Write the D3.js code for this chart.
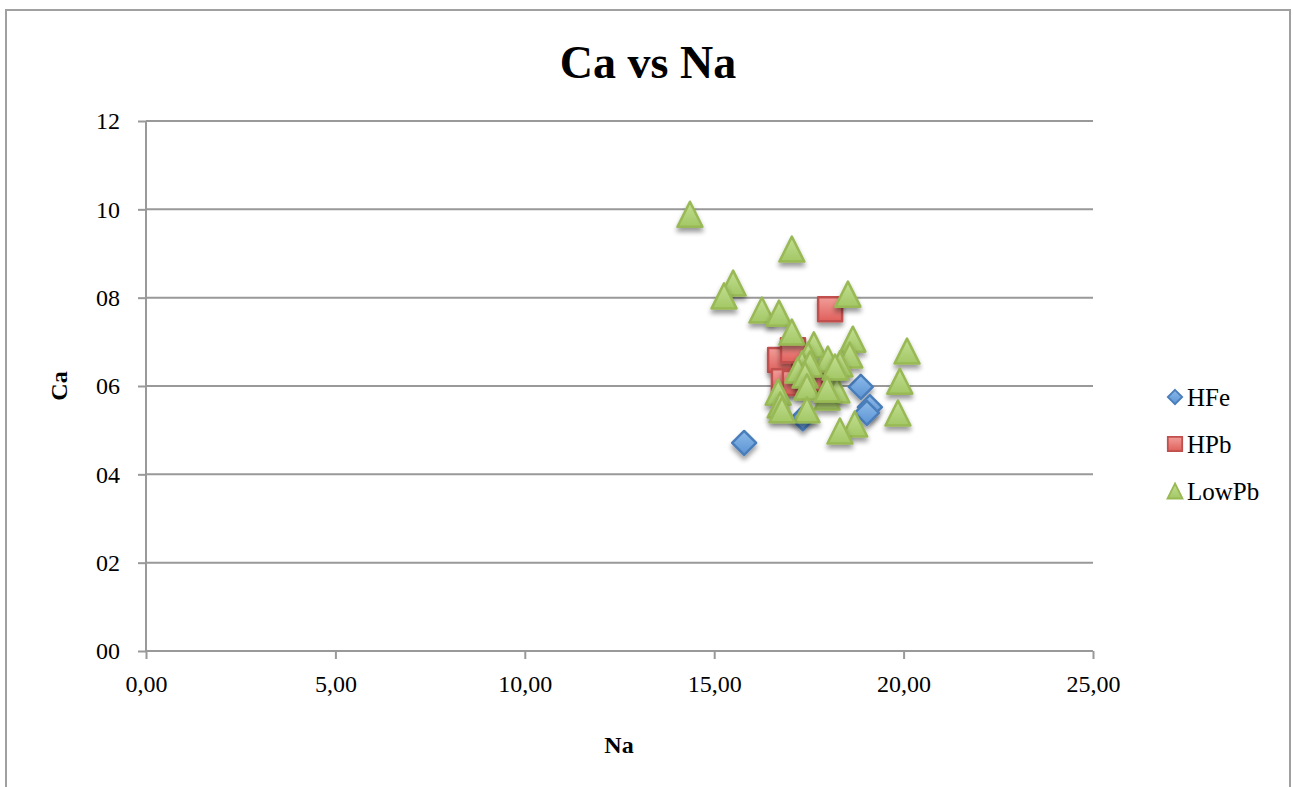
<!DOCTYPE html>
<html>
<head>
<meta charset="utf-8">
<script src="https://cdn.jsdelivr.net/npm/d3@7"></script>
<style>
  body { margin: 0; background: #fff; }
  text { font-family: "Liberation Serif", "DejaVu Serif", serif; fill: #000; }
</style>
</head>
<body>
<svg id="chart" width="1293" height="787"></svg>
<script>

// Na / Ca values
let hfeNa = [15.79, 17.34, 18.87, 19.11, 19.03]
let hfeCa = [4.71, 5.27, 5.98, 5.52, 5.39]

let hpbNa = [18.06, 16.74, 17.08, 16.84, 17.13, 17.53]
let hpbCa = [7.74, 6.59, 6.81, 6.11, 6.07, 6.14]

let lowNa = [14.36, 17.05, 15.50, 15.26, 16.26, 16.71, 17.05, 18.53, 18.66, 18.58,
             20.09, 19.90, 19.85, 18.71, 18.32, 17.63, 17.48, 18.00, 17.32, 17.53,
             18.32, 17.21, 17.40, 18.06, 17.45, 18.24, 16.69, 17.98, 17.45, 16.74,
             16.79, 18.19, 17.98]
let lowCa = [9.89, 9.10, 8.33, 8.04, 7.72, 7.65, 7.22, 8.08, 7.06, 6.70,
             6.79, 6.11, 5.39, 5.14, 4.98, 6.93, 6.70, 6.61, 6.50, 6.50,
             6.50, 6.36, 6.25, 6.02, 5.98, 5.91, 5.86, 5.75, 5.46, 5.57,
             5.46, 6.43, 5.93]

let seriesNames = ["HFe", "HPb", "LowPb"]
let xTicks = [0, 5, 10, 15, 20, 25]
let yTicks = [0, 2, 4, 6, 8, 10, 12]

let svg = d3.select("#chart")

let plotLeft = 146, plotRight = 1093, plotTop = 121, plotBottom = 651

let x = d3.scaleLinear().domain([0, 25]).range([plotLeft, plotRight])
let y = d3.scaleLinear().domain([0, 12]).range([plotBottom, plotTop])

// marker shapes, drawn around (0,0)
const shapes = {
  HFe: "M0,-12L12,0L0,12L-12,0Z",
  HPb: "M-12,-12H12V12H-12Z",
  LowPb: "M0,-12.5L12.5,12.5H-12.5Z"
}
const colors = {
  HFe: { top: "#8dbbea", bottom: "#5b93d3", stroke: "#4a7ebb" },
  HPb: { top: "#f19d99", bottom: "#df605b", stroke: "#c0504d" },
  LowPb: { top: "#c3df92", bottom: "#a3c765", stroke: "#98b954" }
}

let defs = svg.append("defs")
let shadow = defs.append("filter").attr("id", "shadow")
    .attr("x", "-50%").attr("y", "-50%").attr("width", "200%").attr("height", "200%")
shadow.append("feGaussianBlur").attr("in", "SourceAlpha").attr("stdDeviation", 2.5)
shadow.append("feOffset").attr("dx", 0).attr("dy", 4).attr("result", "off")
shadow.append("feComponentTransfer").append("feFuncA").attr("type", "linear").attr("slope", 0.4)
let merge = shadow.append("feMerge")
merge.append("feMergeNode")
merge.append("feMergeNode").attr("in", "SourceGraphic")

for (let name of seriesNames) {
  let g = defs.append("linearGradient").attr("id", "grad-" + name)
      .attr("x1", 0).attr("y1", 0).attr("x2", 0).attr("y2", 1)
  g.append("stop").attr("offset", "0%").attr("stop-color", colors[name].top)
  g.append("stop").attr("offset", "100%").attr("stop-color", colors[name].bottom)
}

// outer frame
svg.append("rect")
    .attr("x", 6).attr("y", 10).attr("width", 1284).attr("height", 800)
    .attr("fill", "#fff").attr("stroke", "#a0a0a0").attr("stroke-width", 2)

// title
svg.append("text")
    .attr("x", 648).attr("y", 78)
    .attr("text-anchor", "middle")
    .attr("font-size", 46).attr("font-weight", "bold")
    .text("Ca vs Na")

// gridlines
svg.append("g").selectAll("line")
    .data(yTicks.filter(d => d > 0))
    .enter().append("line")
    .attr("x1", plotLeft).attr("x2", plotRight)
    .attr("y1", d => y(d)).attr("y2", d => y(d))
    .attr("stroke", "#999").attr("stroke-width", 2)

// axes
let yAxis = d3.axisLeft(y).tickValues(yTicks).tickFormat(d3.format("02d")).tickSize(8).tickPadding(18)
let xAxis = d3.axisBottom(x).tickValues(xTicks)
    .tickFormat(d => d3.format(".2f")(d).replace(".", ",")).tickSize(8).tickPadding(16)

let gy = svg.append("g").attr("transform", "translate(" + plotLeft + ",0)").call(yAxis)
let gx = svg.append("g").attr("transform", "translate(0," + plotBottom + ")").call(xAxis)

for (let g of [gx, gy]) {
  g.select(".domain").attr("stroke", "#999").attr("stroke-width", 2)
  g.selectAll(".tick line").attr("stroke", "#999").attr("stroke-width", 2)
  g.selectAll("text").attr("font-size", 24).attr("fill", "#000")
      .attr("font-family", "Liberation Serif, serif")
}
gy.select(".domain").attr("d", "M0," + plotBottom + "V" + plotTop)
gx.select(".domain").attr("d", "M" + plotLeft + ",0H" + plotRight)

// axis titles
svg.append("text")
    .attr("transform", "translate(67," + ((plotTop + plotBottom) / 2) + ") rotate(-90)")
    .attr("text-anchor", "middle")
    .attr("font-size", 24).attr("font-weight", "bold")
    .text("Ca")

svg.append("text")
    .attr("x", 619).attr("y", 753)
    .attr("text-anchor", "middle")
    .attr("font-size", 24).attr("font-weight", "bold")
    .text("Na")

// points
let series = [
  { name: "HFe", na: hfeNa, ca: hfeCa },
  { name: "HPb", na: hpbNa, ca: hpbCa },
  { name: "LowPb", na: lowNa, ca: lowCa }
]

for (let s of series) {
  let pts = s.na.map((v, i) => ({ na: v, ca: s.ca[i] }))
  svg.append("g").selectAll("path")
      .data(pts)
      .enter().append("path")
      .attr("d", shapes[s.name])
      .attr("transform", d => "translate(" + x(d.na) + "," + y(d.ca) + ")")
      .attr("fill", "url(#grad-" + s.name + ")")
      .attr("stroke", colors[s.name].stroke)
      .attr("stroke-width", 2.5)
      .attr("stroke-linejoin", "round")
      .attr("filter", "url(#shadow)")
}

// legend
let legend = svg.append("g").selectAll("g")
    .data(seriesNames)
    .enter().append("g")
    .attr("transform", (d, i) => "translate(1175," + (397 + i * 47) + ")")

legend.append("path")
    .attr("d", d => shapes[d])
    .attr("transform", "scale(0.6)")
    .attr("fill", d => "url(#grad-" + d + ")")
    .attr("stroke", d => colors[d].stroke)
    .attr("stroke-width", 3)

legend.append("text")
    .attr("x", 12).attr("y", 9)
    .attr("font-size", 25)
    .text(d => d)

</script>
</body>
</html>
